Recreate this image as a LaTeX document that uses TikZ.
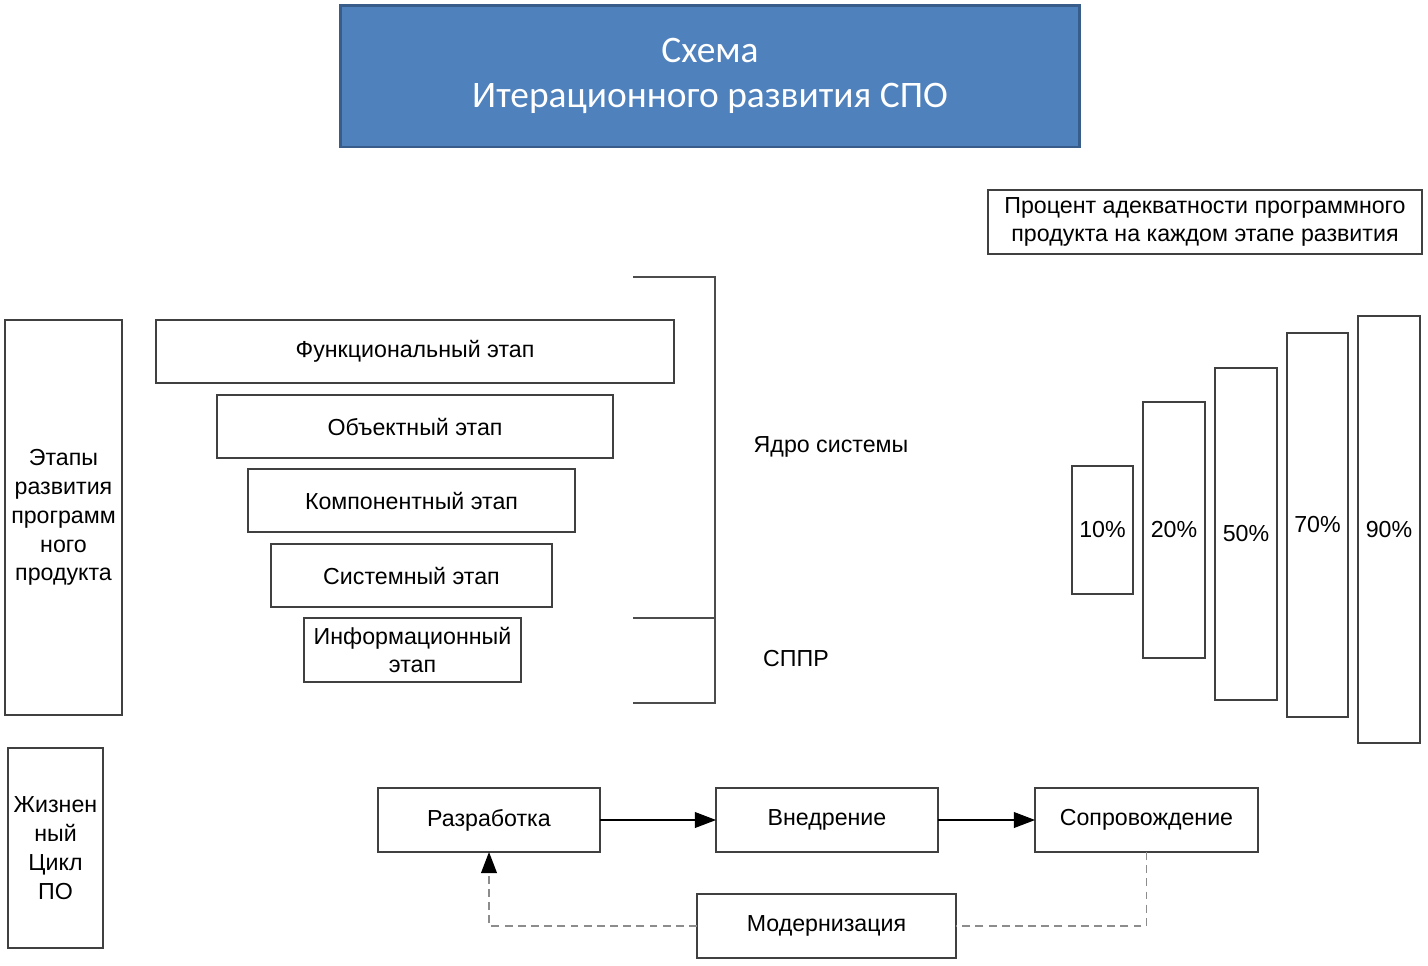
\documentclass[tikz,border=0pt]{standalone}
\usepackage{fontspec}
\setmainfont{Liberation Sans}
\newfontfamily\titlefont{Carlito}
\usepackage{xcolor}
\usetikzlibrary{arrows.meta}
\definecolor{titlefill}{RGB}{79, 129, 189}
\definecolor{titleedge}{RGB}{56, 93, 138}
\definecolor{boxedge}{gray}{0.25}
\definecolor{loopline}{gray}{0.55}
\tikzset{
  box/.style={draw=boxedge, line width=0.8pt, fill=white, inner sep=1pt, outer sep=0pt,
    align=center, font=\fontsize{13.2}{16.4}\selectfont},
  flow/.style={black, line width=0.6pt, -{Triangle[length=12pt, width=9pt]}},
  loop/.style={loopline, line width=0.8pt, dash pattern=on 4.5pt off 3pt},
  loopflow/.style={loop, -{Triangle[length=12pt, width=9pt, color=black]}},
  brace/.style={black!70, line width=0.8pt},
}
\begin{document}
\begin{tikzpicture}[x=0.02cm, y=-0.02cm]
			\useasboundingbox (0,0) rectangle (1428,965);
			% title
			\node[box, fill=titlefill, draw=titleedge, line width=1.7pt, text=white,
				minimum width=14.8cm, minimum height=2.84cm,
				font=\titlefont\fontsize{21.3}{26}\selectfont] (title) at (710,76)
				{Схема\\Итерационного развития СПО};
			\node[box, minimum width=8.68cm, minimum height=1.28cm] (note) at (1205,222)
				{Процент адекватности программного\\продукта на каждом этапе развития};

			% left column
			\node[box, minimum width=2.34cm, minimum height=7.9cm] (stages) at (63.5,517.5)
				{Этапы\\развития\\программ\\ного\\продукта};
			\node[box, minimum width=1.9cm, minimum height=4cm] (life) at (55.5,848)
				{Жизнен\\ный\\Цикл\\ПО};

			% stages of development
			\node[box, minimum width=10.36cm, minimum height=1.26cm] (func) at (415,351.5) {Функциональный этап};
			\node[box, minimum width=7.92cm, minimum height=1.26cm] (obj) at (415,426.5) {Объектный этап};
			\node[box, minimum width=6.54cm, minimum height=1.26cm] (comp) at (411.5,500.5) {Компонентный этап};
			\node[box, minimum width=5.62cm, minimum height=1.26cm] (sys) at (411.5,575.5) {Системный этап};
			\node[box, minimum width=4.34cm, minimum height=1.28cm] (info) at (412.5,650) {Информационный\\этап};

			% bracket
			\draw[brace] (633,277) -- (715,277) -- (715,703) -- (633,703);
			\draw[brace] (633,618) -- (715,618);
			\node[font=\fontsize{13.2}{16}\selectfont] (core) at (831,447) {Ядро системы};
			\node[font=\fontsize{13.2}{16}\selectfont] (dss) at (796,659) {СППР};

			% percentage bars
			\node[box, minimum width=1.22cm, minimum height=2.56cm] (p10) at (1102.5,530) {10\%};
			\node[box, minimum width=1.24cm, minimum height=5.12cm] (p20) at (1174,530) {20\%};
			\node[box, minimum width=1.24cm, minimum height=6.64cm] (p50) at (1246,534) {50\%};
			\node[box, minimum width=1.22cm, minimum height=7.68cm] (p70) at (1317.5,525) {70\%};
			\node[box, minimum width=1.24cm, minimum height=8.54cm] (p90) at (1389,529.5) {90\%};

			% life cycle
			\node[box, minimum width=4.44cm, minimum height=1.28cm] (dev) at (489,820) {Разработка};
			\node[box, minimum width=4.44cm, minimum height=1.28cm] (impl) at (827,820) {Внедрение};
			\node[box, minimum width=4.46cm, minimum height=1.28cm] (supp) at (1146.5,820) {Сопровождение};
			\node[box, minimum width=5.18cm, minimum height=1.28cm] (mod) at (826.5,926) {Модернизация};

			\draw[flow] (dev) -- (impl);
			\draw[flow] (impl) -- (supp);
			\draw[loop] (supp.south) |- (mod.east);
			\draw[loopflow] (mod.west) -| (dev.south);

		\end{tikzpicture}
\end{document}
